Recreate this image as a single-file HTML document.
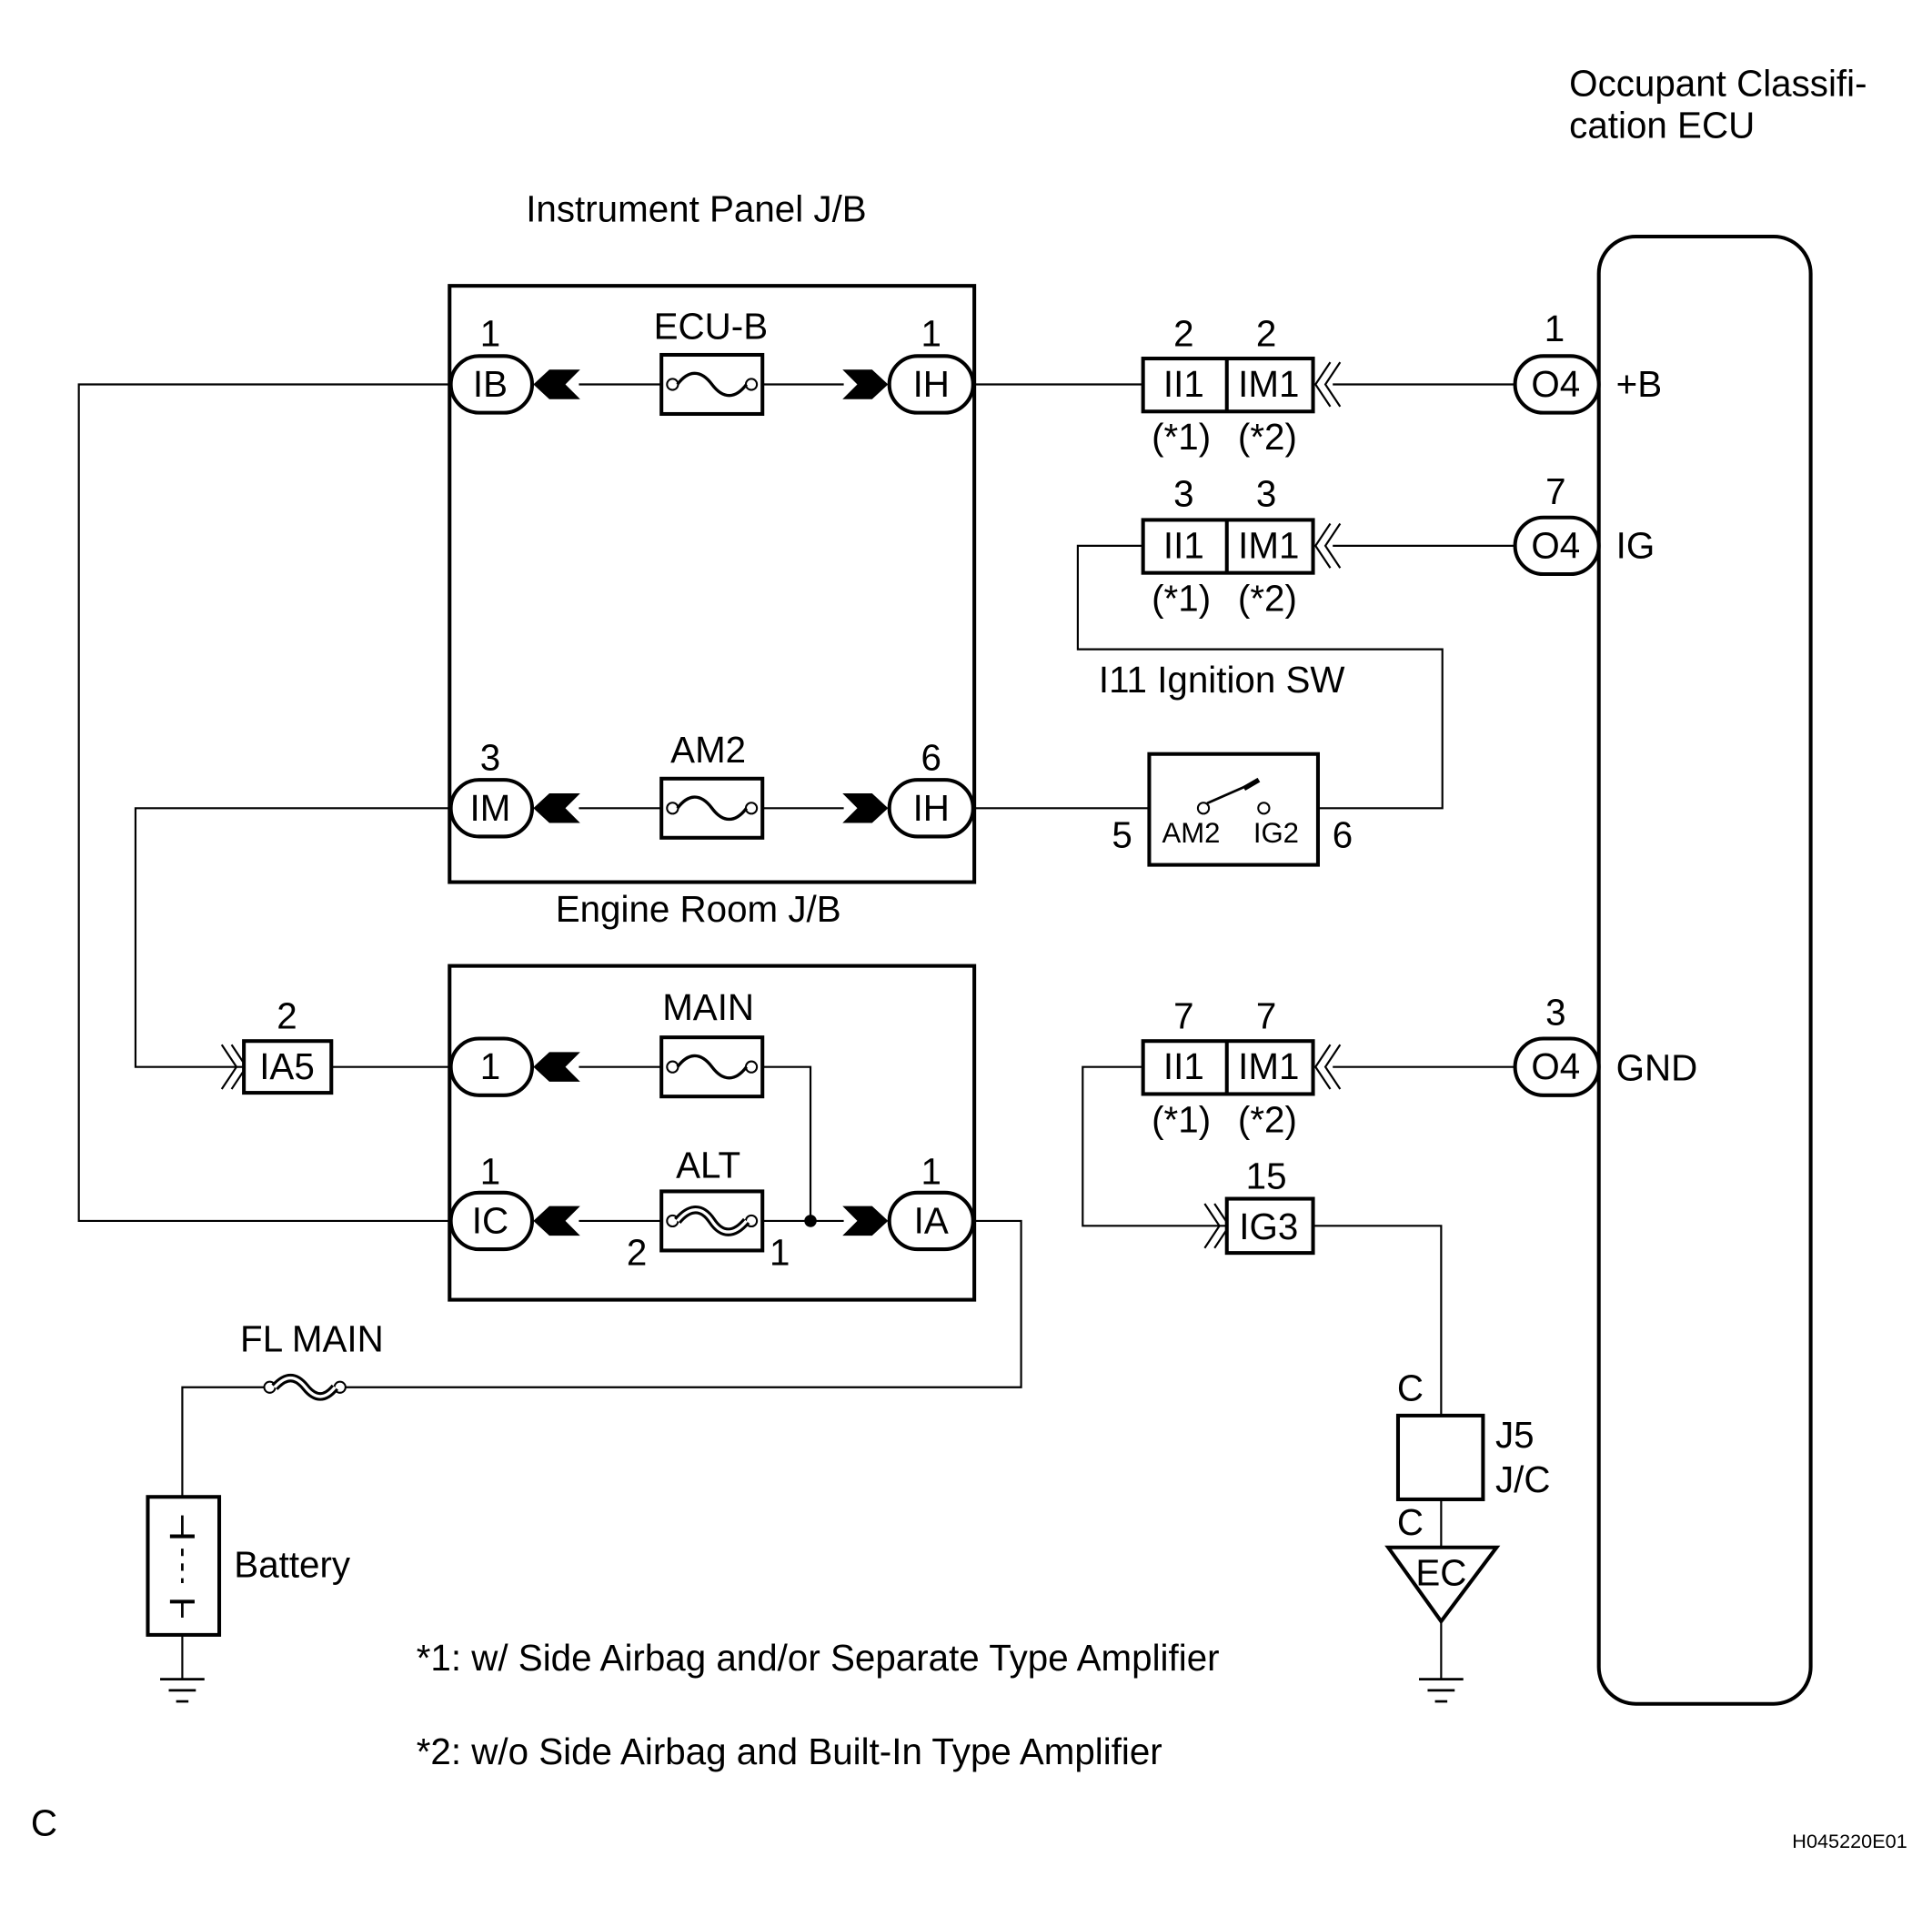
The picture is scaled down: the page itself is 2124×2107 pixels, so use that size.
<!DOCTYPE html>
<html><head><meta charset="utf-8"><style>
html,body{margin:0;padding:0;background:#fff;}
svg{display:block;}
text{font-family:"Liberation Sans",Arial,sans-serif;fill:#000;}
</style></head><body>
<svg width="2124" height="2107" viewBox="0 0 1568.5 1556" preserveAspectRatio="none" xmlns="http://www.w3.org/2000/svg">
<defs>
<g id="fuse"><rect x="0" y="-24" width="82" height="48" fill="#fff" stroke="#000" stroke-width="3"/><circle cx="9" cy="0" r="4.5" fill="#fff" stroke="#000" stroke-width="1.5"/><circle cx="73" cy="0" r="4.5" fill="#fff" stroke="#000" stroke-width="1.5"/><path d="M13,0 C22,-12 32,-12 41,0 C50,12 60,12 69,0" fill="none" stroke="#000" stroke-width="2.5"/></g>
<g id="gnd"><line x1="-18" y1="0" x2="18" y2="0" stroke="#000" stroke-width="2"/><line x1="-11" y1="9" x2="11" y2="9" stroke="#000" stroke-width="2"/><line x1="-5" y1="18" x2="5" y2="18" stroke="#000" stroke-width="2"/></g>
</defs>
<g fill="none" stroke="#000" stroke-width="1.6">
<polyline points="366,312 64,312 64,991 366,991"/>
<polyline points="366,656 110,656 110,866 198,866"/>
<line x1="269" y1="866" x2="366" y2="866"/>
<line x1="470" y1="312" x2="537" y2="312"/><line x1="619" y1="312" x2="685" y2="312"/>
<line x1="470" y1="656" x2="537" y2="656"/><line x1="619" y1="656" x2="685" y2="656"/>
<line x1="470" y1="866" x2="537" y2="866"/><polyline points="619,866 658,866 658,991"/>
<line x1="470" y1="991" x2="537" y2="991"/><line x1="619" y1="991" x2="685" y2="991"/>
<polyline points="790,991 829,991 829,1126 278,1126"/>
<polyline points="215,1126 148,1126 148,1215"/>
<line x1="148" y1="1327" x2="148" y2="1363"/>
<line x1="790" y1="312" x2="928" y2="312"/>
<line x1="1082" y1="312" x2="1230" y2="312"/>
<line x1="1082" y1="443" x2="1230" y2="443"/>
<line x1="1082" y1="866" x2="1230" y2="866"/>
<polyline points="928,443 875,443 875,527 1171,527 1171,656 1070,656"/>
<line x1="790" y1="656" x2="933" y2="656"/>
<polyline points="928,866 879,866 879,995 996,995"/>
<polyline points="1066,995 1170,995 1170,1149"/>
<line x1="1170" y1="1217" x2="1170" y2="1256"/>
<line x1="1170" y1="1316" x2="1170" y2="1363"/>
<polyline points="1080,294 1068,312 1080,330"/><polyline points="1088,294 1076,312 1088,330"/>
<polyline points="1080,425 1068,443 1080,461"/><polyline points="1088,425 1076,443 1088,461"/>
<polyline points="1080,848 1068,866 1080,884"/><polyline points="1088,848 1076,866 1088,884"/>
<polyline points="180,848 192,866 180,884"/><polyline points="188,848 200,866 188,884"/>
<polyline points="978,977 990,995 978,1013"/><polyline points="986,977 998,995 986,1013"/>
</g>
<g fill="none" stroke="#000" stroke-width="3">
<rect x="365" y="232" width="426" height="484"/>
<rect x="365" y="784" width="426" height="271"/>
<rect x="1298" y="192" width="172" height="1191" rx="30"/>
<rect x="933" y="612" width="137" height="90"/>
<rect x="928" y="291" width="138" height="43" fill="#fff"/><line x1="996" y1="291" x2="996" y2="334"/>
<rect x="928" y="422" width="138" height="43" fill="#fff"/><line x1="996" y1="422" x2="996" y2="465"/>
<rect x="928" y="845" width="138" height="43" fill="#fff"/><line x1="996" y1="845" x2="996" y2="888"/>
<rect x="996" y="973" width="70" height="44" fill="#fff"/>
<rect x="198" y="845" width="71" height="42" fill="#fff"/>
<rect x="1135" y="1149" width="69" height="68"/>
<polygon points="1127,1256 1215,1256 1170,1316"/>
<rect x="120" y="1215" width="58" height="112"/>
</g>
<g stroke="#000" stroke-width="2">
<line x1="138" y1="1247" x2="158" y2="1247" stroke-width="3"/><line x1="148" y1="1247" x2="148" y2="1230"/>
<line x1="148" y1="1257" x2="148" y2="1285" stroke-dasharray="6,6"/>
<line x1="138" y1="1300" x2="158" y2="1300" stroke-width="3"/><line x1="148" y1="1300" x2="148" y2="1313"/>
</g>
<use href="#gnd" x="148" y="1363"/><use href="#gnd" x="1170" y="1363"/>
<g fill="#fff" stroke="#000" stroke-width="3">
<rect x="366" y="289" width="66" height="46" rx="23"/>
<rect x="722" y="289" width="68" height="46" rx="23"/>
<rect x="366" y="633" width="66" height="46" rx="23"/>
<rect x="722" y="633" width="68" height="46" rx="23"/>
<rect x="366" y="843" width="66" height="46" rx="23"/>
<rect x="366" y="968" width="66" height="46" rx="23"/>
<rect x="722" y="968" width="68" height="46" rx="23"/>
<rect x="1230" y="289" width="68" height="46" rx="23"/>
<rect x="1230" y="420" width="68" height="46" rx="23"/>
<rect x="1230" y="843" width="68" height="46" rx="23"/>
</g>
<g fill="#000">
<polygon points="433,312 446,300 471,300 459,312 471,324 446,324"/>
<polygon points="433,656 446,644 471,644 459,656 471,668 446,668"/>
<polygon points="433,866 446,854 471,854 459,866 471,878 446,878"/>
<polygon points="433,991 446,979 471,979 459,991 471,1003 446,1003"/>
<polygon points="684,300 708,300 721,312 708,324 684,324 696,312"/>
<polygon points="684,644 708,644 721,656 708,668 684,668 696,656"/>
<polygon points="684,979 708,979 721,991 708,1003 684,1003 696,991"/>
<circle cx="658" cy="991" r="5"/>
</g>
<use href="#fuse" x="537" y="312"/><use href="#fuse" x="537" y="656"/><use href="#fuse" x="537" y="866"/>
<g><rect x="537" y="967" width="82" height="48" fill="#fff" stroke="#000" stroke-width="3"/><circle cx="546" cy="991" r="4.5" fill="#fff" stroke="#000" stroke-width="1.5"/><circle cx="610" cy="991" r="4.5" fill="#fff" stroke="#000" stroke-width="1.5"/><path d="M550,991 C560,979 570,979 578,991 C586,1003 596,1003 606,991" fill="none" stroke="#000" stroke-width="7"/><path d="M550,991 C560,979 570,979 578,991 C586,1003 596,1003 606,991" fill="none" stroke="#fff" stroke-width="2.5"/></g>
<g><circle cx="219" cy="1126" r="4.5" fill="#fff" stroke="#000" stroke-width="1.5"/><circle cx="276" cy="1126" r="4.5" fill="#fff" stroke="#000" stroke-width="1.5"/><path d="M223,1126 C232,1116 240,1116 248,1126 C256,1136 264,1136 272,1126" fill="none" stroke="#000" stroke-width="7"/><path d="M223,1126 C232,1116 240,1116 248,1126 C256,1136 264,1136 272,1126" fill="none" stroke="#fff" stroke-width="2.5"/></g>
<circle cx="977" cy="656" r="4.5" fill="#fff" stroke="#000" stroke-width="1.5"/>
<circle cx="1026" cy="656" r="4.5" fill="#fff" stroke="#000" stroke-width="1.5"/>
<line x1="980" y1="652" x2="1021" y2="634" stroke="#000" stroke-width="2"/>
<line x1="1010" y1="640" x2="1022" y2="633" stroke="#000" stroke-width="4"/>
<g font-size="29.8">
<text x="1274" y="78">Occupant Classifi-</text><text x="1274" y="112">cation ECU</text>
<text x="427" y="180">Instrument Panel J/B</text>
<text x="451" y="748">Engine Room J/B</text>
<text x="892" y="562">I11 Ignition SW</text>
<text x="1312" y="322">+B</text><text x="1312" y="453">IG</text><text x="1312" y="877">GND</text>
<text x="190" y="1280">Battery</text>
<text x="195" y="1097">FL MAIN</text>
<text x="1214" y="1175">J5</text><text x="1214" y="1211">J/C</text>
<text x="338" y="1356">*1: w/ Side Airbag and/or Separate Type Amplifier</text>
<text x="338" y="1432">*2: w/o Side Airbag and Built-In Type Amplifier</text>
<text x="25" y="1490">C</text>
</g>
<g font-size="29.8" text-anchor="middle">
<text x="398" y="322">IB</text><text x="756" y="322">IH</text>
<text x="398" y="666">IM</text><text x="756" y="666">IH</text>
<text x="398" y="876">1</text><text x="398" y="1001">IC</text><text x="756" y="1001">IA</text>
<text x="398" y="281">1</text><text x="756" y="281">1</text>
<text x="398" y="625">3</text><text x="756" y="625">6</text>
<text x="398" y="961">1</text><text x="756" y="961">1</text>
<text x="577" y="275">ECU-B</text><text x="575" y="619">AM2</text>
<text x="575" y="828">MAIN</text><text x="575" y="956">ALT</text>
<text x="517" y="1027">2</text><text x="633" y="1027">1</text>
<text x="233" y="876">IA5</text><text x="233" y="835">2</text>
<text x="1263" y="322">O4</text><text x="1263" y="453">O4</text><text x="1263" y="876">O4</text>
<text x="1262" y="277">1</text><text x="1263" y="409">7</text><text x="1263" y="832">3</text>
<text x="961" y="322">II1</text><text x="1030" y="322">IM1</text>
<text x="961" y="453">II1</text><text x="1030" y="453">IM1</text>
<text x="961" y="876">II1</text><text x="1030" y="876">IM1</text>
<text x="961" y="281">2</text><text x="1028" y="281">2</text>
<text x="961" y="411">3</text><text x="1028" y="411">3</text>
<text x="961" y="835">7</text><text x="1028" y="835">7</text>
<text x="959" y="365">(*1)</text><text x="1029" y="365">(*2)</text>
<text x="959" y="496">(*1)</text><text x="1029" y="496">(*2)</text>
<text x="959" y="919">(*1)</text><text x="1029" y="919">(*2)</text>
<text x="1030" y="1006">IG3</text><text x="1028" y="965">15</text>
<text x="911" y="688">5</text><text x="1090" y="688">6</text>
<text x="1145" y="1137">C</text><text x="1145" y="1246">C</text>
<text x="1170" y="1287">EC</text>
</g>
<g font-size="23" text-anchor="middle"><text x="967" y="684">AM2</text><text x="1036" y="684">IG2</text></g>
<text x="1455" y="1500" font-size="16">H045220E01</text>
</svg>
</body></html>
